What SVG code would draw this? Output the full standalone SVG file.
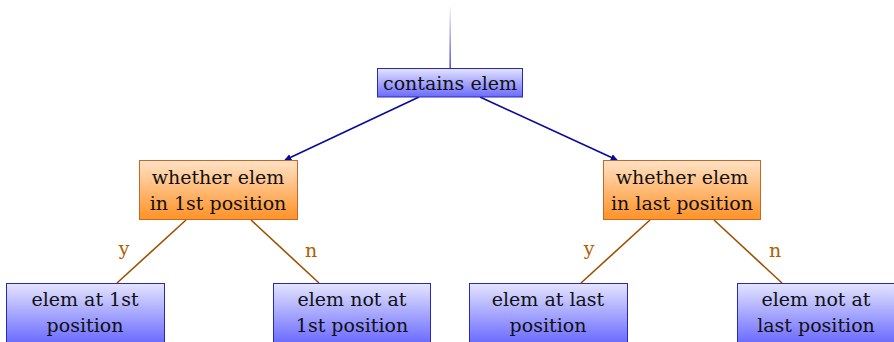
<svg xmlns="http://www.w3.org/2000/svg" width="894" height="342" viewBox="0 0 894 342">
<defs>
<linearGradient id="gb" x1="0" y1="0" x2="0" y2="1"><stop offset="0" stop-color="#e4e4ff"/><stop offset="1" stop-color="#6a6aff"/></linearGradient>
<linearGradient id="go" x1="0" y1="0" x2="0" y2="1"><stop offset="0" stop-color="#ffe2c6"/><stop offset="1" stop-color="#ff9226"/></linearGradient>
<linearGradient id="gl" x1="0" y1="0" x2="0" y2="1"><stop offset="0" stop-color="#ffffff"/><stop offset="1" stop-color="#3030c0"/></linearGradient>
<marker id="ah" viewBox="0 0 10 10" refX="9" refY="5" markerWidth="7" markerHeight="7" orient="auto" markerUnits="userSpaceOnUse"><path d="M0,0 L10,5 L0,10 z" fill="#0a0a9a"/></marker>
</defs>
<style>
.b{fill:url(#gb);stroke:#2a2ab0;stroke-width:1}
.o{fill:url(#go);stroke:#c0692a;stroke-width:1}
text{font-size:19px;fill:#111;text-anchor:middle}
.lbl{fill:#b35c00}
.br{stroke:#9a5200;stroke-width:1.6;fill:none}
.ar{stroke:#0a0a9a;stroke-width:1.6;fill:none;marker-end:url(#ah)}
</style>
<g font-family="DejaVu Serif, Liberation Serif, serif">
<g id="connectors">
<rect x="449.5" y="5" width="1.3" height="63" fill="url(#gl)"/>
<line class="ar" x1="419" y1="97" x2="285" y2="160"/>
<line class="ar" x1="480" y1="97" x2="617" y2="160"/>
<line class="br" x1="186" y1="220" x2="117" y2="283"/>
<line class="br" x1="251" y1="220" x2="319" y2="283"/>
<line class="br" x1="650" y1="220" x2="581" y2="283"/>
<line class="br" x1="714" y1="220" x2="782" y2="283"/>
<text class="lbl" x="124" y="255">y</text>
<text class="lbl" x="311" y="257">n</text>
<text class="lbl" x="589" y="255">y</text>
<text class="lbl" x="775" y="257">n</text>
</g>
<g id="root"><rect class="b" x="377.5" y="68.5" width="145" height="28.5"/><text x="450" y="90">contains elem</text></g>
<g id="first"><rect class="o" x="139.5" y="160.5" width="158" height="59"/><text x="218" y="184">whether elem</text><text x="218" y="210">in 1st position</text></g>
<g id="last"><rect class="o" x="603.5" y="160.5" width="157" height="59"/><text x="682" y="184">whether elem</text><text x="682" y="210">in last position</text></g>
<g id="at1"><rect class="b" x="6.5" y="283.5" width="158" height="60"/><text x="85" y="306">elem at 1st</text><text x="85" y="332">position</text></g>
<g id="not1"><rect class="b" x="273.5" y="283.5" width="157" height="60"/><text x="352" y="306">elem not at</text><text x="352" y="332">1st position</text></g>
<g id="atl"><rect class="b" x="469.5" y="283.5" width="158" height="60"/><text x="548" y="306">elem at last</text><text x="548" y="332">position</text></g>
<g id="notl"><rect class="b" x="737.5" y="283.5" width="157" height="60"/><text x="816" y="306">elem not at</text><text x="816" y="332">last position</text></g>
</g>
</svg>
